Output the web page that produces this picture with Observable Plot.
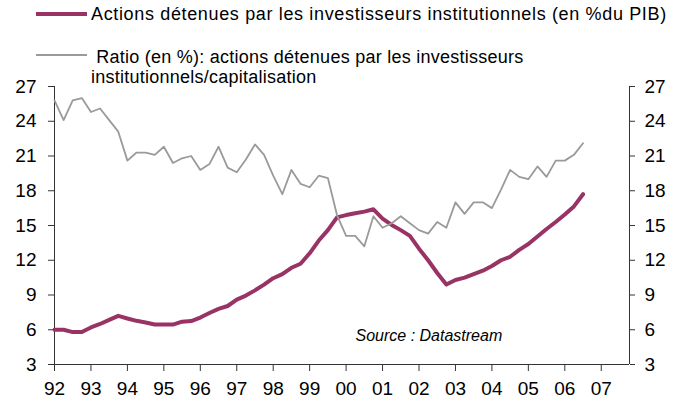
<!DOCTYPE html>
<html>
<head>
<meta charset="utf-8">
<script src="https://cdn.jsdelivr.net/npm/d3@7"></script>
<script src="https://cdn.jsdelivr.net/npm/@observablehq/plot@0.6"></script>
<style>
  html, body { margin: 0; padding: 0; background: #fff; }
  #wrap { position: relative; width: 676px; height: 409px; font-family: "Liberation Sans", Arial, sans-serif; }
  #chart { position: absolute; left: 0; top: 0; }
  .lg-line { position: absolute; }
  .lg-text { position: absolute; color: #000; font-size: 18px; letter-spacing: 0.25px; white-space: nowrap; line-height: 20px; }
</style>
</head>
<body>
<div id="wrap">
  <div id="chart"></div>
  <div class="lg-line" style="left:36px; top:12px; width:51px; height:4px; background:#993366;"></div>
  <div class="lg-text" id="lg1" style="left:91px; top:4px; letter-spacing:0.65px;"></div>
  <div class="lg-line" style="left:36px; top:54px; width:51px; height:2px; background:#9a9a9a;"></div>
  <div class="lg-text" id="lg2" style="left:91px; top:47px;"></div>
</div>
<script>
// ---- data ----
const startYear = 1992;           // first quarter of the series
const xMax = 2007.775;            // right end of the category axis
const seriesNames = [
  "Actions détenues par les investisseurs institutionnels (en %du PIB)",
  " Ratio (en %): actions détenues par les investisseurs\ninstitutionnels/capitalisation"
];
// Actions détenues par les investisseurs institutionnels (% du PIB), quarterly 1992Q1–2006Q3
const actionsPIB = [
  6.0, 6.0, 5.8, 5.8, 6.2, 6.5, 6.85, 7.2,
  6.97, 6.77, 6.63, 6.45, 6.45, 6.45, 6.7, 6.75,
  7.05, 7.45, 7.8, 8.05, 8.6, 8.95, 9.4, 9.9,
  10.45, 10.8, 11.35, 11.7, 12.6, 13.7, 14.6, 15.7,
  15.9, 16.05, 16.2, 16.4, 15.6, 15.05, 14.6, 14.1,
  13.0, 12.0, 10.9, 9.9, 10.3, 10.5, 10.8, 11.1,
  11.5, 12.0, 12.3, 12.9, 13.4, 14.05, 14.7, 15.3,
  15.95, 16.65, 17.7
];
// Ratio actions détenues / capitalisation (%)
const ratioCap = [
  25.8, 24.1, 25.8, 26.0, 24.8, 25.1, 24.1, 23.1,
  20.6, 21.3, 21.3, 21.1, 21.8, 20.4, 20.8, 21.0,
  19.8, 20.3, 21.8, 20.0, 19.6, 20.7, 22.0, 21.1,
  19.3, 17.7, 19.8, 18.6, 18.3, 19.3, 19.1, 15.9,
  14.1, 14.1, 13.2, 15.8, 14.8, 15.2, 15.8, 15.2,
  14.6, 14.3, 15.3, 14.8, 17.0, 16.0, 17.0, 17.0,
  16.5, 18.1, 19.8, 19.2, 19.0, 20.1, 19.2, 20.6,
  20.6, 21.1, 22.1
];
const xTickYears = [1992,1993,1994,1995,1996,1997,1998,1999,2000,2001,2002,2003,2004,2005,2006,2007];
const xTickLabels = ["92","93","94","95","96","97","98","99","00","01","02","03","04","05","06","07"];
const yTicks = [3, 6, 9, 12, 15, 18, 21, 24, 27];
const sourceText = "Source : Datastream";

// ---- table ----
const rows = actionsPIB.map((v, i) => ({ t: startYear + i / 4, pib: v, ratio: ratioCap[i] }));

const colPIB = "#993366";
const colRatio = "#9a9a9a";
const axisCol = "#333";

const chart = Plot.plot({
  width: 676,
  height: 409,
  marginLeft: 54,
  marginRight: 47,
  marginTop: 86,
  marginBottom: 45,
  x: { domain: [startYear, xMax] },
  y: { domain: [3, 27] },
  style: { fontFamily: "'Liberation Sans', Arial, sans-serif", fontSize: "19px", background: "#fff", color: "#000" },
  marks: [
    Plot.axisY({ anchor: "left", ticks: yTicks, tickSize: 6, tickPadding: 12, label: null, stroke: axisCol, fill: "#000" }),
    Plot.axisY({ anchor: "right", ticks: yTicks, tickSize: 5, tickPadding: 10, label: null, stroke: axisCol, fill: "#000" }),
    Plot.axisX({ ticks: xTickYears, tickFormat: (d) => xTickLabels[xTickYears.indexOf(d)], tickSize: 7, tickPadding: 10, label: null, stroke: axisCol, fill: "#000" }),
    Plot.ruleX([startYear, xMax], { stroke: axisCol }),
    Plot.ruleY([3], { stroke: axisCol }),
    Plot.line(rows, { x: "t", y: "pib", stroke: colPIB, strokeWidth: 4, strokeLinejoin: "round" }),
    Plot.line(rows, { x: "t", y: "ratio", stroke: colRatio, strokeWidth: 1.8 }),
    Plot.text([sourceText], { frameAnchor: "bottom-left", dx: 301, dy: -24, textAnchor: "start", fontStyle: "italic", fontSize: 16, fill: "#000" })
  ]
});
document.getElementById("chart").appendChild(chart);
document.getElementById("lg1").textContent = seriesNames[0];
const [l2a, l2b] = seriesNames[1].split("\n");
const s1 = document.createElement("div"); s1.textContent = l2a; s1.style.whiteSpace = "pre";
const s2 = document.createElement("div"); s2.textContent = l2b;
document.getElementById("lg2").append(s1, s2);
</script>
</body>
</html>
